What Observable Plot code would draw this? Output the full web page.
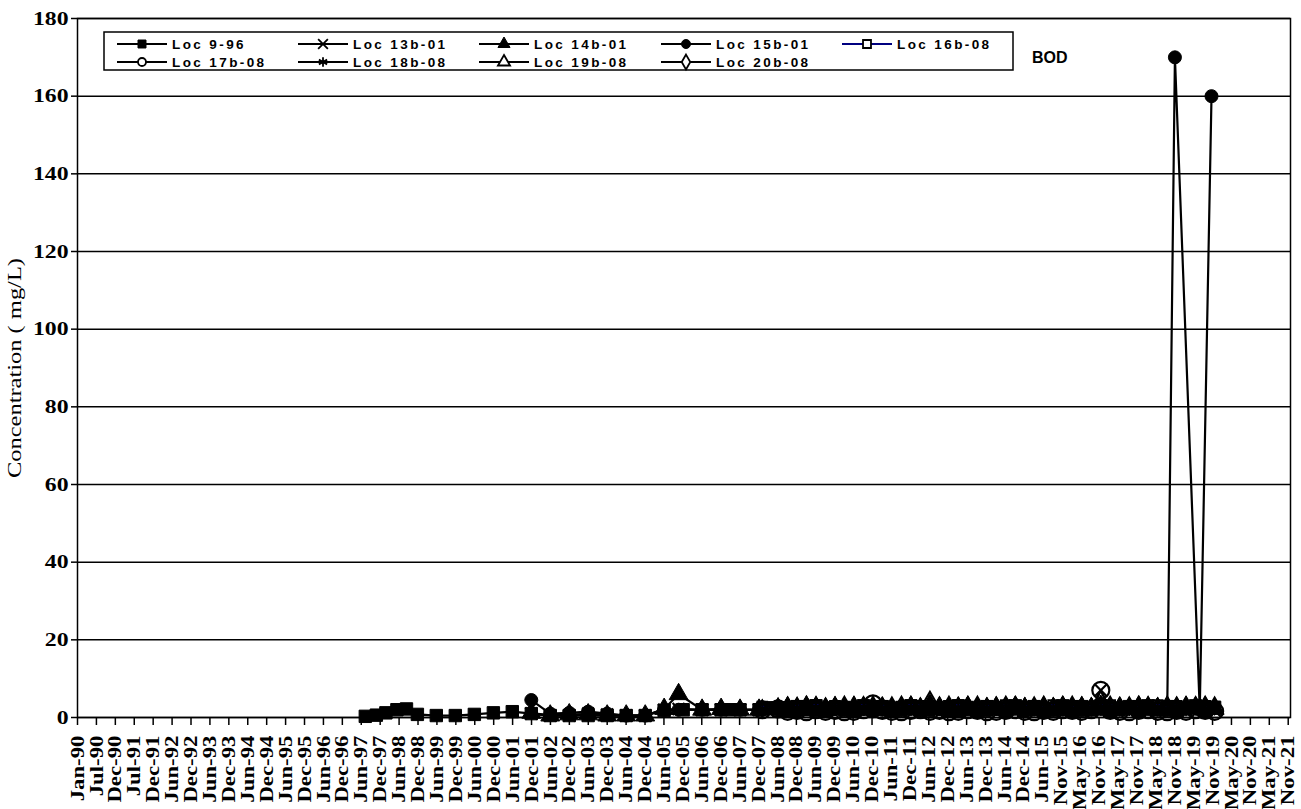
<!DOCTYPE html>
<html><head><meta charset="utf-8">
<script src="https://cdn.jsdelivr.net/npm/d3@7"></script>
<script src="https://cdn.jsdelivr.net/npm/@observablehq/plot@0.6"></script>
<style>
html,body{margin:0;padding:0;background:#fff;}
#chart{position:relative;width:1301px;height:809px;}
</style></head><body><div id="chart"></div>
<script>
// ---------- tick labels ----------
const xTickLabels = ["Jan-90","Jul-90","Dec-90","Jul-91","Dec-91","Jun-92","Dec-92","Jun-93","Dec-93","Jun-94",
  "Dec-94","Jun-95","Dec-95","Jun-96","Dec-96","Jun-97","Dec-97","Jun-98","Dec-98","Jun-99",
  "Dec-99","Jun-00","Dec-00","Jun-01","Dec-01","Jun-02","Dec-02","Jun-03","Dec-03","Jun-04",
  "Dec-04","Jun-05","Dec-05","Jun-06","Dec-06","Jun-07","Dec-07","Jun-08","Dec-08","Jun-09",
  "Dec-09","Jun-10","Dec-10","Jun-11","Dec-11","Jun-12","Dec-12","Jun-13","Dec-13","Jun-14",
  "Dec-14","Jun-15","Nov-15","May-16","Nov-16","May-17","Nov-17","May-18","Nov-18","May-19",
  "Nov-19","May-20","Nov-20","May-21","Nov-21"];
const yTicks = [0,20,40,60,80,100,120,140,160,180];
const seriesNames = ["Loc 9-96","Loc 13b-01","Loc 14b-01","Loc 15b-01","Loc 16b-08","Loc 17b-08","Loc 18b-08","Loc 19b-08","Loc 20b-08"];

// ---------- data ----------
const loc9_96EarlyDates = ["1997-08-01","1997-11-15","1998-02-15","1998-06-01","1998-09-01","1998-12-15",
  "1999-06-15","1999-12-15","2000-06-15","2000-12-15",
  "2001-06-15","2001-12-15","2002-06-15","2002-12-15","2003-06-15","2003-12-15","2004-06-15","2004-12-15",
  "2005-06-15","2005-12-15","2006-06-15","2006-12-15","2007-03-15","2007-06-15","2007-12-15","2008-03-15","2008-06-15"];
const loc9_96EarlyValues = [0.3,0.6,1.2,2.0,2.2,0.8,
  0.5,0.5,0.8,1.2,
  1.5,1.0,0.5,0.5,0.5,0.5,0.5,0.5,
  1.8,2.0,2.0,2.0,2.0,2.0,2.0,2.5,2.5];

const early01Dates = ["2001-12-15","2002-06-15","2002-12-15","2003-06-15","2003-12-15","2004-06-15","2004-12-15",
  "2005-06-15","2005-11-01","2006-06-15","2006-12-15","2007-06-15","2007-12-15","2008-06-15"];
const loc13b01EarlyValues = [1.0,0.5,0.5,1.0,0.8,0.5,0.5,2.0,2.2,2.0,2.0,2.0,2.0,2.0];
const loc14b01EarlyValues = [1.2,0.5,0.8,0.8,0.5,0.5,0.5,2.2,6.0,2.0,2.2,2.0,2.0,2.2];
const loc15b01EarlyValues = [4.5,1.0,1.2,1.5,1.0,0.5,0.5,2.0,2.0,2.0,2.0,2.0,2.0,2.0];

const early08Dates = ["2008-01-15","2008-06-15"];

const bandDates = ["2008-09-15","2008-12-15","2009-03-15","2009-06-15","2009-09-15","2009-12-15","2010-03-15","2010-06-15","2010-09-15","2010-12-15",
  "2011-03-15","2011-06-15","2011-09-15","2011-12-15","2012-03-15","2012-06-15","2012-09-15","2012-12-15","2013-03-15","2013-06-15",
  "2013-09-15","2013-12-15","2014-03-15","2014-06-15","2014-09-15","2014-12-15","2015-03-15","2015-06-15","2015-09-15","2015-12-15",
  "2016-03-15","2016-06-15","2016-09-15","2016-12-15","2017-03-15","2017-06-15","2017-09-15","2017-12-15","2018-03-15","2018-06-15",
  "2018-09-15","2018-12-15","2019-03-15","2019-06-15","2019-09-15","2019-12-15"];

const loc9_96BandValues = [1.6,2.8,2.0,3.0,1.6,2.6,2.2,1.6,3.0,2.0,
  2.8,1.6,2.2,3.0,1.8,2.6,2.2,1.6,3.0,2.0,
  1.6,2.8,2.2,1.6,3.0,2.0,2.8,1.6,2.2,3.0,
  1.6,2.8,2.0,3.0,1.6,2.2,2.8,1.6,3.0,2.0,
  2.8,1.6,2.2,3.0,1.6,2.6];
const loc13b01BandValues = [2.0,1.8,2.2,2.0,2.4,1.8,2.0,2.2,1.6,2.0,
  2.4,2.0,1.8,2.2,2.0,2.6,2.0,1.8,2.2,2.0,
  2.4,1.8,2.0,2.2,2.0,1.8,2.4,2.0,2.2,1.8,
  2.0,2.2,2.0,7.0,2.0,2.4,1.8,2.0,2.2,2.0,
  1.8,2.2,2.0,2.4,2.0,1.8];
const loc14b01BandValues = [2.6,2.2,2.8,2.4,2.0,2.6,2.2,2.8,2.4,2.0,
  2.6,2.2,2.5,2.8,2.2,3.0,2.4,2.2,2.6,2.8,
  2.2,2.4,2.6,2.0,2.8,2.4,2.2,2.6,2.4,2.8,
  2.2,2.6,2.4,3.0,2.2,2.6,2.4,2.8,2.2,2.4,
  2.6,2.2,2.8,2.4,2.6,2.2];
const loc15b01BandValues = [2.0,1.6,2.2,1.8,2.0,2.4,1.8,2.0,2.2,1.6,
  2.0,2.4,1.8,2.2,2.0,1.8,2.2,2.0,1.6,2.4,
  2.0,1.8,2.2,2.0,2.4,1.6,2.0,2.2,1.8,2.0,
  2.4,1.8,2.0,2.2,1.6,2.0,2.4,1.8,2.2,2.0,
  1.8];
const loc15b01LateDates = ["2018-11-28","2019-07-25","2019-11-15"];
const loc15b01LateValues = [170,2.0,160];

const loc16b08Values = [2.8,1.6,
  2.6,3.0,2.8,3.2,2.6,3.0,2.8,2.6,3.2,2.8,
  3.0,2.6,2.8,3.2,3.0,2.8,2.6,3.0,3.2,2.8,
  2.6,3.0,2.8,3.2,2.6,2.8,3.0,2.6,3.2,2.8,
  3.0,2.6,2.8,3.0,3.2,2.6,2.8,3.0,2.6,3.2,
  2.8,3.0,2.6,2.8,3.0,2.8];
const loc17b08Values = [2.0,2.2,
  1.6,1.8,1.5,2.0,1.6,1.8,1.5,1.6,2.0,3.5,
  1.8,1.6,1.5,1.8,2.0,1.6,1.8,1.5,1.6,2.0,
  1.8,1.5,1.6,1.8,2.0,1.6,1.5,1.8,1.6,2.0,
  1.8,1.6,2.0,7.0,1.8,1.6,1.5,1.8,2.0,1.6,
  1.5,1.8,1.6,2.0,1.8,1.6];
const loc18b08Values = [2.2,2.0,
  2.2,2.0,2.4,2.2,2.6,2.0,2.4,2.2,2.0,2.6,
  2.2,2.4,2.0,2.2,2.6,2.4,2.0,2.2,2.4,2.6,
  2.0,2.2,2.4,2.0,2.6,2.2,2.4,2.2,2.0,2.6,
  2.2,2.4,2.0,2.2,2.6,2.4,2.0,2.2,2.4,2.6,
  2.0,2.2,2.4,2.2,2.0,2.4];
const loc19b08Values = [2.0,2.4,
  2.4,2.6,2.2,2.8,2.4,2.6,2.2,2.4,2.8,2.6,
  2.2,2.4,2.6,2.8,2.4,4.2,2.6,2.2,2.4,2.8,
  2.6,2.2,2.4,2.6,2.8,2.4,2.2,2.6,2.4,2.8,
  2.2,2.6,2.4,2.8,2.6,2.2,2.4,2.6,2.8,2.4,
  2.2,2.6,2.4,2.8,2.6,2.4];
const loc20b08Values = [2.2,2.6,
  3.0,2.8,3.2,3.0,2.8,3.0,3.2,2.8,3.0,3.2,
  2.8,3.0,3.2,3.0,2.8,3.6,3.0,3.2,2.8,3.0,
  3.2,2.8,3.0,3.2,3.0,2.8,3.0,3.2,2.8,3.0,
  3.2,3.0,2.8,3.0,3.2,2.8,3.0,3.2,3.0,2.8,
  3.2,3.0,2.8,3.0,3.2,3.0];

// ---------- build table ----------
function rowsOf(name, dates, values) {
  return dates.map((d, i) => ({name, date: new Date(d + "T00:00:00Z"), value: values[i]}))
              .filter(r => r.value != null);
}
const dates08 = [...early08Dates, ...bandDates];
const seriesRows = {
  "Loc 9-96": rowsOf("Loc 9-96", [...loc9_96EarlyDates, ...bandDates], [...loc9_96EarlyValues, ...loc9_96BandValues]),
  "Loc 13b-01": rowsOf("Loc 13b-01", [...early01Dates, ...bandDates], [...loc13b01EarlyValues, ...loc13b01BandValues]),
  "Loc 14b-01": rowsOf("Loc 14b-01", [...early01Dates, ...bandDates], [...loc14b01EarlyValues, ...loc14b01BandValues]),
  "Loc 15b-01": rowsOf("Loc 15b-01", [...early01Dates, ...bandDates.slice(0, loc15b01BandValues.length), ...loc15b01LateDates],
                       [...loc15b01EarlyValues, ...loc15b01BandValues, ...loc15b01LateValues]),
  "Loc 16b-08": rowsOf("Loc 16b-08", dates08, loc16b08Values),
  "Loc 17b-08": rowsOf("Loc 17b-08", dates08, loc17b08Values),
  "Loc 18b-08": rowsOf("Loc 18b-08", dates08, loc18b08Values),
  "Loc 19b-08": rowsOf("Loc 19b-08", dates08, loc19b08Values),
  "Loc 20b-08": rowsOf("Loc 20b-08", dates08, loc20b08Values)
};

// ---------- styles ----------
const styles = {
  "Loc 9-96":   {line: "black", symbol: "square",   r: 7,   fill: "black", stroke: "black", sw: 1},
  "Loc 13b-01": {line: "black", symbol: "times",    r: 5.5, fill: "none",  stroke: "black", sw: 2.2},
  "Loc 14b-01": {line: "black", symbol: "triangle", r: 7,   fill: "black", stroke: "black", sw: 1},
  "Loc 15b-01": {line: "black", symbol: "circle",   r: 6.5, fill: "black", stroke: "black", sw: 1},
  "Loc 16b-08": {line: "#000080", symbol: "square", r: 5.5, fill: "none",  stroke: "black", sw: 2},
  "Loc 17b-08": {line: "black", symbol: "circle",   r: 8.5, fill: "none",  stroke: "black", sw: 2.2},
  "Loc 18b-08": {line: "black", symbol: "asterisk", r: 6,   fill: "none",  stroke: "black", sw: 2.2},
  "Loc 19b-08": {line: "black", symbol: "triangle", r: 6,   fill: "none",  stroke: "black", sw: 2},
  "Loc 20b-08": {line: "black", symbol: "diamond",  r: 5,   fill: "none",  stroke: "black", sw: 2}
};

const DAY = 864e5;
const start = Date.UTC(1990, 0, 1);
const xTicks = xTickLabels.map((_, i) => new Date(start + i * 182 * DAY));
const labelOf = new Map(xTicks.map((d, i) => [+d, xTickLabels[i]]));

const seriesMarks = [];
for (const name of seriesNames) {
  const s = styles[name], data = seriesRows[name];
  seriesMarks.push(Plot.line(data, {x: "date", y: "value", stroke: s.line, strokeWidth: 2.2}));
  seriesMarks.push(Plot.dot(data, {x: "date", y: "value", symbol: () => s.symbol, r: s.r, fill: s.fill, stroke: s.stroke, strokeWidth: s.sw}));
}

const plot = Plot.plot({
  width: 1301, height: 809,
  marginLeft: 77, marginRight: 11, marginTop: 18, marginBottom: 92,
  style: {fontFamily: "'Liberation Serif','Times New Roman',serif", fontSize: "20px", fontWeight: "bold", color: "black", background: "white", overflow: "visible"},
  x: {type: "utc", domain: [new Date(start), new Date(start + 11670 * DAY)]},
  y: {domain: [0, 180]},
  symbol: {type: "identity"},
  marks: [
    Plot.gridY(yTicks, {stroke: "black", strokeOpacity: 1, strokeWidth: 1.5}),
    Plot.axisY({ticks: yTicks, tickSize: 6, tickPadding: 3, label: null, strokeWidth: 1.5}),
    Plot.axisX({ticks: xTicks, tickFormat: d => labelOf.get(+d), tickRotate: -90, tickSize: 8, tickPadding: 10, label: null, strokeWidth: 1.5}),
    ...seriesMarks,
    Plot.frame({stroke: "black", strokeWidth: 1.5})
  ]
});
document.getElementById("chart").appendChild(plot);

const svg = d3.select(plot);
function stretch(sel, size, k) {
  sel.each(function () {
    this.setAttribute("font-size", size);
    this.setAttribute("font-weight", "bold");
    this.style.fontVariant = "normal";
    const len = this.getComputedTextLength();
    this.setAttribute("textLength", len * k);
    this.setAttribute("lengthAdjust", "spacingAndGlyphs");
  });
}
stretch(svg.selectAll('g[aria-label="y-axis tick label"] text'), 19, 1.25);
stretch(svg.selectAll('g[aria-label="x-axis tick label"] text'), 19, 1.2);

// y-axis title
svg.append("text")
  .attr("transform", "translate(21,368) rotate(-90)")
  .attr("text-anchor", "middle")
  .attr("font-family", "'Liberation Serif','Times New Roman',serif")
  .attr("font-size", 18).attr("font-weight", "normal")
  .attr("textLength", 220).attr("lengthAdjust", "spacingAndGlyphs")
  .text("Concentration ( mg/L)");

// legend
const leg = svg.append("g").attr("font-family", "'Liberation Sans',Arial,sans-serif")
  .attr("font-size", 13.5).attr("font-weight", "bold").attr("text-anchor", "start");
leg.append("rect").attr("x", 104).attr("y", 32).attr("width", 909).attr("height", 38)
  .attr("fill", "white").attr("stroke", "black").attr("stroke-width", 1.5);
const symMap = {square: d3.symbolSquare, times: d3.symbolTimes, triangle: d3.symbolTriangle, circle: d3.symbolCircle,
  asterisk: d3.symbolAsterisk, diamond: d3.symbolDiamond};
const colX = [117, 298, 479, 661, 842];
const rowY = [44, 62];
seriesNames.forEach((name, i) => {
  const s = styles[name];
  const x0 = colX[i % 5], y0 = rowY[Math.floor(i / 5)];
  leg.append("line").attr("x1", x0).attr("x2", x0 + 50).attr("y1", y0).attr("y2", y0)
    .attr("stroke", s.line).attr("stroke-width", 2);
  const lr = name === "Loc 17b-08" ? 4 : Math.min(s.r, 4.5);
  leg.append("path").attr("d", d3.symbol(symMap[s.symbol], lr * lr * Math.PI)())
    .attr("transform", `translate(${x0 + 25},${y0})`)
    .attr("fill", s.fill === "none" ? "white" : s.fill).attr("stroke", s.stroke).attr("stroke-width", Math.min(s.sw, 1.8));
  leg.append("text").attr("x", x0 + 55).attr("y", y0).attr("dy", "0.36em")
    .attr("text-anchor", "start").attr("letter-spacing", "2.4px").text(name);
});

// BOD label
svg.append("text").attr("x", 1032).attr("y", 63).attr("text-anchor", "start")
  .attr("font-family", "'Liberation Sans',Arial,sans-serif").attr("font-size", 16).attr("font-weight", "bold")
  .text("BOD");
</script></body></html>
